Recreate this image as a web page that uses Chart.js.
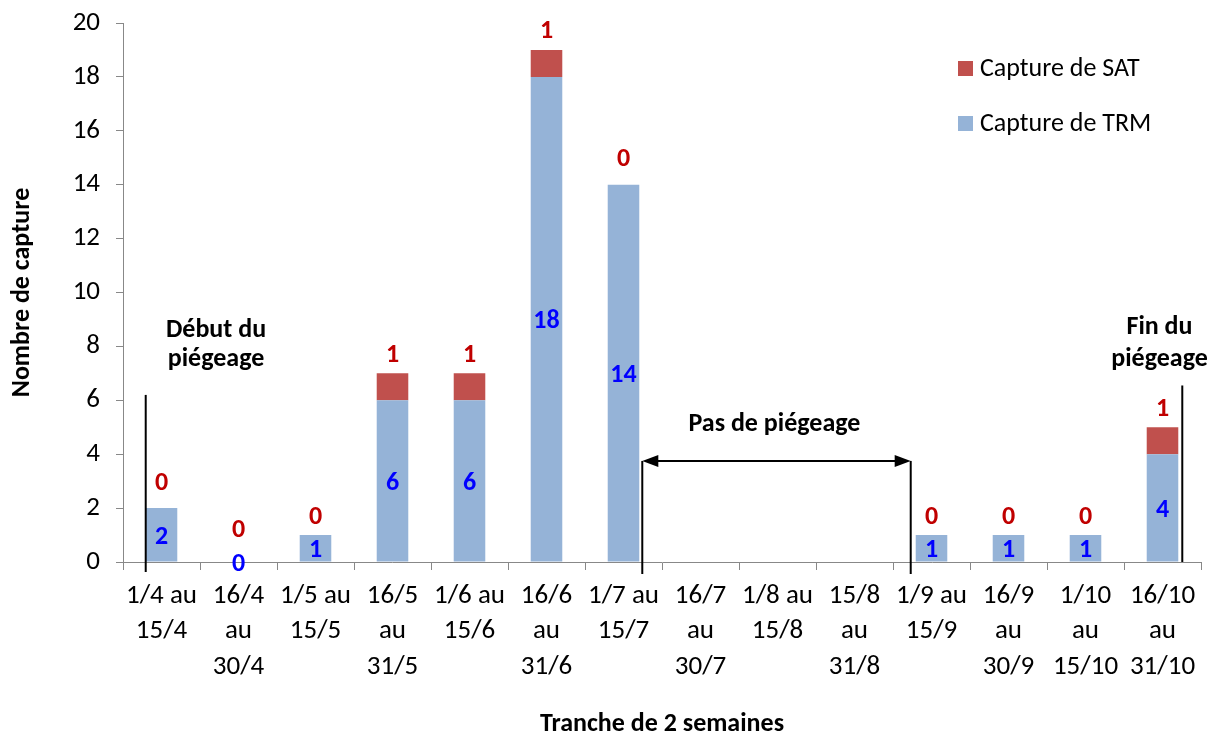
<!DOCTYPE html>
<html>
<head>
<meta charset="utf-8">
<script src="https://cdn.jsdelivr.net/npm/chart.js@4.4.0/dist/chart.umd.min.js"></script>
<style>
  html, body { margin: 0; padding: 0; background: #fff; }
  #wrap { width: 1211px; height: 735px; position: relative; }
</style>
</head>
<body>
<div id="wrap"><canvas id="myChart"></canvas></div>
<script>
// Tranches de 2 semaines
const periods = [
  ['1/4 au', '15/4'], ['16/4', 'au', '30/4'], ['1/5 au', '15/5'], ['16/5', 'au', '31/5'],
  ['1/6 au', '15/6'], ['16/6', 'au', '31/6'], ['1/7 au', '15/7'], ['16/7', 'au', '30/7'],
  ['1/8 au', '15/8'], ['15/8', 'au', '31/8'], ['1/9 au', '15/9'], ['16/9', 'au', '30/9'],
  ['1/10', 'au', '15/10'], ['16/10', 'au', '31/10']
];
// captures (null = pas de piégeage)
const trmCapture = [2, 0, 1, 6, 6, 18, 14, null, null, null, 1, 1, 1, 4];
const satCapture = [0, 0, 0, 1, 1, 1, 0, null, null, null, 0, 0, 0, 1];
const yTicks = [0, 2, 4, 6, 8, 10, 12, 14, 16, 18, 20];

const FONT = 'Carlito, Lato, sans-serif';
const FS = 27;
const FB = 26;
const trmColor = '#95B3D7';
const satColor = '#C0504D';

// value labels + annotations + legend
const extras = {
  id: 'extras',
  afterDatasetsDraw(chart) {
    const c = chart.ctx;
    const xs = chart.scales.x;
    const ys = chart.scales.y;
    const bars = chart.getDatasetMeta(0).data;
    const half = bars[0].width / 2;
    const bottom = chart.chartArea.bottom;

    c.save();
    c.textAlign = 'center';
    c.textBaseline = 'middle';
    c.font = 'bold ' + FB + 'px ' + FONT;
    trmCapture.forEach((v, i) => {
      const x = xs.getPixelForValue(i);
      if (v !== null) {
        c.fillStyle = '#0000FF';
        c.fillText(String(v), x, ys.getPixelForValue(v / 2) + 2);
      }
      const s = satCapture[i];
      if (s !== null) {
        c.fillStyle = '#C00000';
        const top = ys.getPixelForValue(v + s);
        let off = 18;
        if (v === 0) off = 32;
        else if (s === 0 && v >= 2) off = 25;
        c.fillText(String(s), x, top - off);
      }
    });

    // annotation lines
    c.strokeStyle = '#000';
    c.fillStyle = '#000';
    c.lineWidth = 2;
    const vline = (x, y1, y2) => { c.beginPath(); c.moveTo(x, y1); c.lineTo(x, y2); c.stroke(); };

    const xStart = xs.getPixelForValue(0) - half;
    vline(xStart, ys.getPixelForValue(6.2), bottom + 10);

    const xa = xs.getPixelForValue(6) + half + 3;
    const xb = xs.getPixelForValue(10) - half - 5;
    const ya = ys.getPixelForValue(3.75);
    vline(xa, ya, bottom + 12);
    vline(xb, ya, bottom + 12);
    c.beginPath(); c.moveTo(xa + 10, ya); c.lineTo(xb - 10, ya); c.stroke();
    c.beginPath(); c.moveTo(xa, ya); c.lineTo(xa + 16, ya - 6); c.lineTo(xa + 16, ya + 6); c.closePath(); c.fill();
    c.beginPath(); c.moveTo(xb, ya); c.lineTo(xb - 16, ya - 6); c.lineTo(xb - 16, ya + 6); c.closePath(); c.fill();

    const xEnd = xs.getPixelForValue(13) + half + 4;
    vline(xEnd, ys.getPixelForValue(6.55), bottom);

    c.font = 'bold ' + FB + 'px ' + FONT;
    c.fillStyle = '#000';
    const xd = (xs.getPixelForValue(0) + xs.getPixelForValue(1)) / 2 + 16;
    c.fillText('Début du', xd, ys.getPixelForValue(8.6));
    c.fillText('piégeage', xd, ys.getPixelForValue(7.5));
    c.fillText('Pas de piégeage', xs.getPixelForValue(7.96), ys.getPixelForValue(5.1));
    const xf = xs.getPixelForValue(13) - 3;
    c.fillText('Fin du', xf, ys.getPixelForValue(8.7));
    c.fillText('piégeage', xf, ys.getPixelForValue(7.5));

    // legend
    c.textAlign = 'left';
    c.font = '26px ' + FONT;
    const lx = 958;
    [[satColor, 'Capture de SAT', 68], [trmColor, 'Capture de TRM', 123]].forEach(([col, txt, y]) => {
      c.fillStyle = col;
      c.fillRect(lx, y - 7, 15, 15);
      c.fillStyle = '#000';
      c.fillText(txt, lx + 22, y + 1);
    });
    c.restore();
  }
};

new Chart(document.getElementById('myChart'), {
  type: 'bar',
  data: {
    labels: periods,
    datasets: [
      { label: 'Capture de TRM', data: trmCapture, backgroundColor: trmColor, stack: 's' },
      { label: 'Capture de SAT', data: satCapture, backgroundColor: satColor, stack: 's' }
    ]
  },
  options: {
    responsive: true,
    maintainAspectRatio: false,
    animation: false,
    datasets: { bar: { categoryPercentage: 1, barPercentage: 0.41 } },
    layout: { padding: { top: 23, right: 10, left: 0, bottom: 0 } },
    plugins: { legend: { display: false }, tooltip: { enabled: false } },
    scales: {
      x: {
        stacked: true,
        grid: { display: true, drawOnChartArea: false, offset: true, tickLength: 8, color: '#888' },
        border: { color: '#888', width: 1 },
        ticks: { color: '#000', font: { family: FONT, size: FS, lineHeight: 1.32 }, maxRotation: 0, autoSkip: false, padding: 8 },
        title: { display: true, text: 'Tranche de 2 semaines', color: '#000', font: { family: FONT, size: FB, weight: 'bold', lineHeight: 0.8 }, padding: { top: 30, bottom: 0 } },
        afterFit: s => { s.height = 173; s.paddingLeft = 0; s.paddingRight = 0; }
      },
      y: {
        stacked: true,
        min: 0, max: 20,
        afterBuildTicks: s => { s.ticks = yTicks.map(v => ({ value: v })); },
        grid: { drawOnChartArea: false, tickLength: 7, color: '#888' },
        border: { color: '#888', width: 1 },
        ticks: { color: '#000', font: { family: FONT, size: FS }, padding: 16 },
        title: { display: true, text: 'Nombre de capture', color: '#000', font: { family: FONT, size: FB, weight: 'bold' }, padding: { top: 7, bottom: 20 } },
        afterFit: s => { s.width = 123; s.paddingTop = 0; s.paddingBottom = 0; }
      }
    }
  },
  plugins: [extras]
});
</script>
</body>
</html>
